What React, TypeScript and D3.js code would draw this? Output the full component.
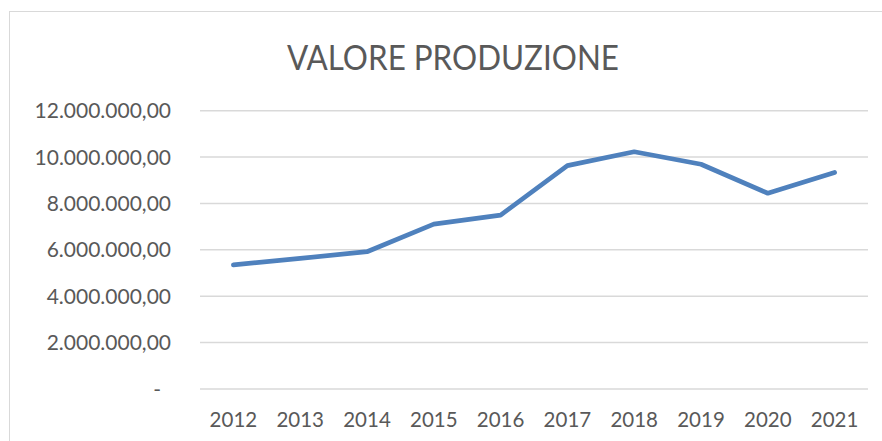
import React from "react";
import * as d3 from "d3";

const years = ["2012", "2013", "2014", "2015", "2016", "2017", "2018", "2019", "2020", "2021"];
const values = [5350000, 5630000, 5920000, 7110000, 7500000, 9630000, 10230000, 9690000, 8440000, 9340000];
const yTicks = [0, 2000000, 4000000, 6000000, 8000000, 10000000, 12000000];
const title = "VALORE PRODUZIONE";

const W = 882;
const H = 441;
const plotLeft = 200;
const plotRight = 868;
const yTop = 110.7;
const yBottom = 389;

const fmt = (v: number) => {
  if (v === 0) return "-";
  const s = Math.round(v).toString().replace(/\B(?=(\d{3})+(?!\d))/g, ".");
  return s + ",00";
};

export default function App() {
  const x = d3.scaleBand<string>().domain(years).range([plotLeft, plotRight]);
  const y = d3.scaleLinear().domain([0, 12000000]).range([yBottom, yTop]);
  const line = d3
    .line<number>()
    .x((_, i) => (x(years[i]) as number) + x.bandwidth() / 2)
    .y((d) => y(d));
  const font = "Lato, 'Open Sans', sans-serif";
  return (
    <svg
      width={W}
      height={H}
      style={{ position: "absolute", left: 0, top: 0, background: "#fff" }}
    >
      <rect x={9.5} y={11.5} width={W + 10} height={H + 10} fill="#fff" stroke="#D9D9D9" strokeWidth={1} />
      <text
        x={453}
        y={70}
        textAnchor="middle"
        fill="#595959"
        fontFamily={font}
        fontSize={34}
        textLength={332}
        lengthAdjust="spacingAndGlyphs"
      >
        {title}
      </text>
      {yTicks.map((t) => (
        <g key={t}>
          <line x1={plotLeft} x2={plotRight} y1={y(t)} y2={y(t)} stroke="#D9D9D9" strokeWidth={1.5} />
          <text
            x={t === 0 ? 161 : 171}
            y={y(t)}
            dy="0.36em"
            textAnchor="end"
            fill="#595959"
            fontFamily={font}
            fontSize={21}
          >
            {fmt(t)}
          </text>
        </g>
      ))}
      {years.map((yr) => (
        <text
          key={yr}
          x={(x(yr) as number) + x.bandwidth() / 2}
          y={427}
          textAnchor="middle"
          fill="#595959"
          fontFamily={font}
          fontSize={20.5}
        >
          {yr}
        </text>
      ))}
      <path
        d={line(values) || ""}
        fill="none"
        stroke="#4F81BD"
        strokeWidth={4.7}
        strokeLinecap="round"
        strokeLinejoin="round"
      />
    </svg>
  );
}
